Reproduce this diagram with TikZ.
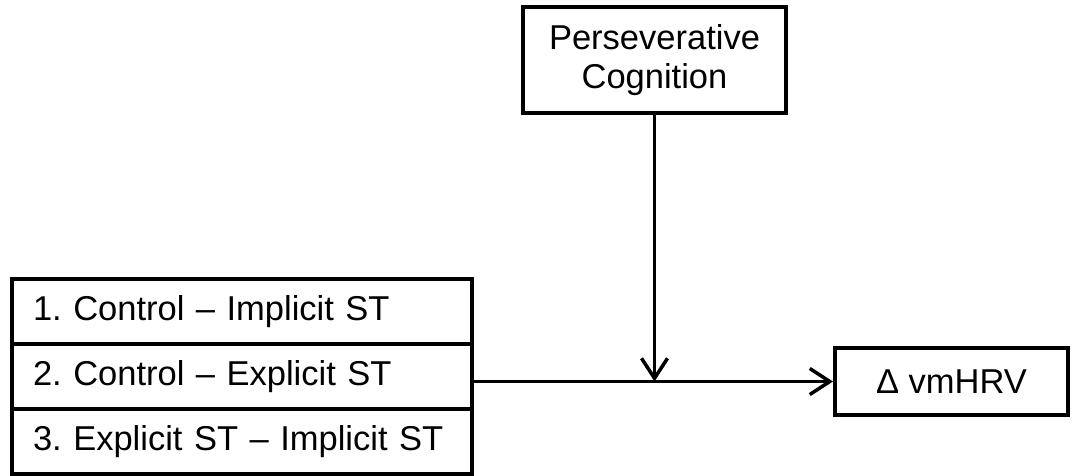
\documentclass[tikz,border=0pt]{standalone}
\usepackage{fontspec}
\setmainfont{Liberation Sans}
\frenchspacing
\usetikzlibrary{arrows.meta}
\tikzset{>={Straight Barb[length=20pt, width=26pt]}}

\begin{document}
\begin{tikzpicture}[x=1pt, y=-1pt,
	box/.style = {draw, line width=4pt, font=\fontsize{34.5}{39}\selectfont, inner sep=0pt},
	cbox/.style = {box, text width=418pt, inner xsep=21pt, minimum height=65pt, align=left}]
	\useasboundingbox (0,0) rectangle (1074,475);
	\node [box, minimum width=263pt, minimum height=106pt, align=center] (pc) at (654.5,60) {Perseverative\\Cognition};
	\node [cbox] (c1) at (242,311.5) {1. Control – Implicit ST};
	\node [cbox] (c2) at (242,376.5) {2. Control – Explicit ST};
	\node [cbox] (c3) at (242,441.5) {3. Explicit ST – Implicit ST};
	\node [box, minimum width=233pt, minimum height=67pt] (hrv) at (951.5,381.5) {Δ vmHRV};
	\draw [->, line width=3.5pt] (c2.east |- hrv.west) -- (hrv.west);
	\draw [->, line width=3.5pt] (pc.south) -- (pc.south |- hrv.west);
\end{tikzpicture}
\end{document}
